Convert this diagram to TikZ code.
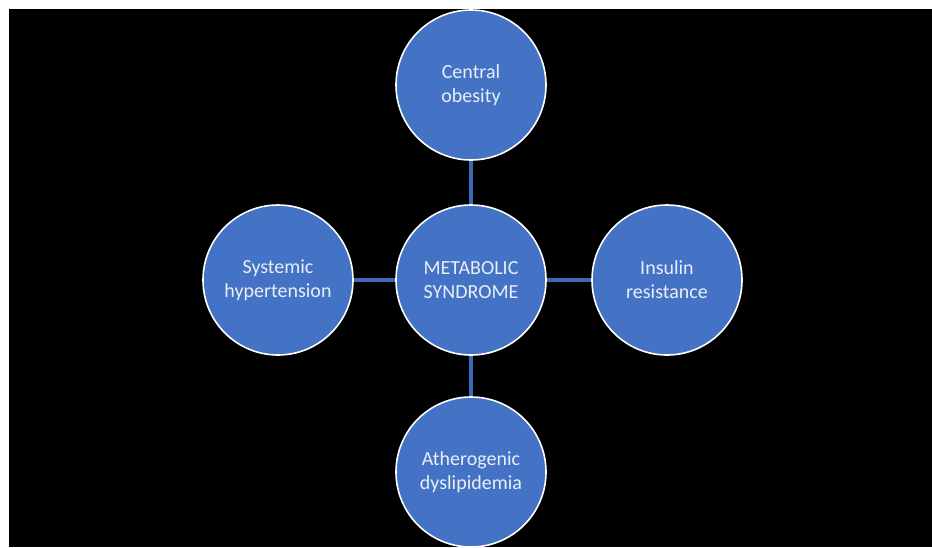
\documentclass[tikz,border=0pt]{standalone}
\usepackage{fontspec}
\setmainfont{Carlito}
\definecolor{boxblue}{HTML}{4472C4}
\definecolor{linkblue}{HTML}{4068B8}
\definecolor{paletext}{HTML}{E9EEF7}
\tikzset{
  factor/.style={circle, draw=white, line width=1.6pt, fill=boxblue, minimum size=150pt,
    inner sep=0pt, text=paletext, align=center, font=\fontsize{20}{24}\selectfont},
  link/.style={draw=linkblue, line width=3.2pt}
}
\begin{document}
\begin{tikzpicture}[x=1pt,y=-1pt]
\useasboundingbox (0,0) rectangle (932,547);
\fill[white] (0,0) rectangle (932,547);
\fill[black] (9,9) rectangle (932,547);
\begin{scope}
\clip (9,9) rectangle (932,547);

\node[factor] (syndrome) at (471,280) {METABOLIC\\SYNDROME};
\node[factor] (obesity) at (471,85) {Central\\obesity};
\node[factor] (hypertension) at (278,280) {Systemic\\hypertension};
\node[factor] (insulin) at (667,280) {Insulin\\resistance};
\node[factor] (dyslipidemia) at (471,472) {Atherogenic\\dyslipidemia};

\draw[link] (syndrome) -- (obesity);
\draw[link] (syndrome) -- (hypertension);
\draw[link] (syndrome) -- (insulin);
\draw[link] (syndrome) -- (dyslipidemia);
\end{scope}
\end{tikzpicture}
\end{document}
